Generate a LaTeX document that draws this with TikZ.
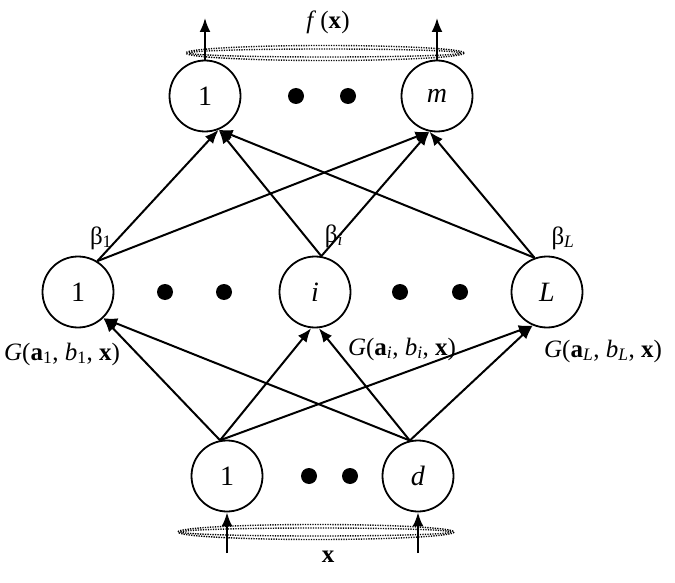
\documentclass[tikz,border=0pt]{standalone}
\usepackage{fontspec}
\setmainfont{Liberation Serif}
\usetikzlibrary{arrows.meta}
\begin{document}
\begin{tikzpicture}[x=1pt,y=-1pt,
 neuron/.style={circle,draw,line width=1.8pt,minimum size=71pt,inner sep=0pt,font=\fontsize{28}{32}\selectfont},
 conn/.style={line width=2pt,-{Latex[length=14pt,width=11pt]}},
 bigdot/.style={circle,fill,inner sep=0pt,minimum size=16pt},
 lbl/.style={font=\fontsize{25}{29}\selectfont,inner sep=0pt},
 grp/.style={dash pattern=on 1.3pt off 1.2pt,line width=1.4pt}]
\useasboundingbox (0,0) rectangle (675,583);
% output layer
\node[neuron] (o1) at (205,96) {1};
\node[neuron] (om) at (437,96) {\textit{m}};
\node[bigdot] (od1) at (296,96) {};
\node[bigdot] (od2) at (348,96) {};
% hidden layer
\node[neuron] (h1) at (78,292) {1};
\node[neuron] (hi) at (315,292) {\textit{i}};
\node[neuron] (hL) at (547,292) {\textit{L}};
\node[bigdot] (hd1) at (165,292) {};
\node[bigdot] (hd2) at (224,292) {};
\node[bigdot] (hd3) at (400,292) {};
\node[bigdot] (hd4) at (460,292) {};
% input layer
\node[neuron] (x1) at (227,476) {1};
\node[neuron] (xd) at (418,476) {\textit{d}};
\node[bigdot] (xd1) at (309,476) {};
\node[bigdot] (xd2) at (350,476) {};
% grouping ellipses
\draw[grp] (325,53) ellipse [x radius=139, y radius=7.5];
\draw[grp] (325,53) ellipse [x radius=136, y radius=4];
\draw[grp] (316,532) ellipse [x radius=138, y radius=7.5];
\draw[grp] (316,532) ellipse [x radius=135, y radius=4];
% output arrows
\coordinate (f1) at (205,18);
\coordinate (fm) at (437,18);
\draw[conn] (o1.north) -- (f1);
\draw[conn] (om.north) -- (fm);
% input arrows
\coordinate (in1) at (227,553);
\coordinate (ind) at (418,553);
\draw[conn] (in1) -- (x1.south);
\draw[conn] (ind) -- (xd.south);
% labels
\node[lbl] (fx) at (328,22) {\textit{f}\,(\textbf{x})};
\node[lbl] (xl) at (328,557) {\textbf{x}};
\node[lbl] (b1) at (101,238) {β\textsubscript{1}};
\node[lbl] (bi) at (334,236) {β\textsubscript{\textit{i}}};
\node[lbl] (bL) at (563,238) {β\textsubscript{\textit{L}}};
\node[lbl] (g1) at (62,354) {\textit{G}(\textbf{a}\textsubscript{1}, \textit{b}\textsubscript{1}, \textbf{x})};
\node[lbl] (gi) at (402,349) {\textit{G}(\textbf{a}\textsubscript{\textit{i}}, \textit{b}\textsubscript{\textit{i}}, \textbf{x})};
\node[lbl] (gL) at (603,351) {\textit{G}(\textbf{a}\textsubscript{\textit{L}}, \textit{b}\textsubscript{\textit{L}}, \textbf{x})};
% hidden -> output
\draw[conn] (h1.58) -- (o1.-68);
\draw[conn] (h1.58) -- (om.-102);
\draw[conn] (hi.80) -- (o1.-68);
\draw[conn] (hi.80) -- (om.-102);
\draw[conn] (hL.110) -- (o1.-68);
\draw[conn] (hL.110) -- (om.-102);
% input -> hidden
\draw[conn] (x1.101) -- (h1.-46);
\draw[conn] (x1.101) -- (hi.-96);
\draw[conn] (x1.101) -- (hL.-113);
\draw[conn] (xd.103) -- (h1.-46);
\draw[conn] (xd.103) -- (hi.-84);
\draw[conn] (xd.103) -- (hL.-113);
\end{tikzpicture}
\end{document}
